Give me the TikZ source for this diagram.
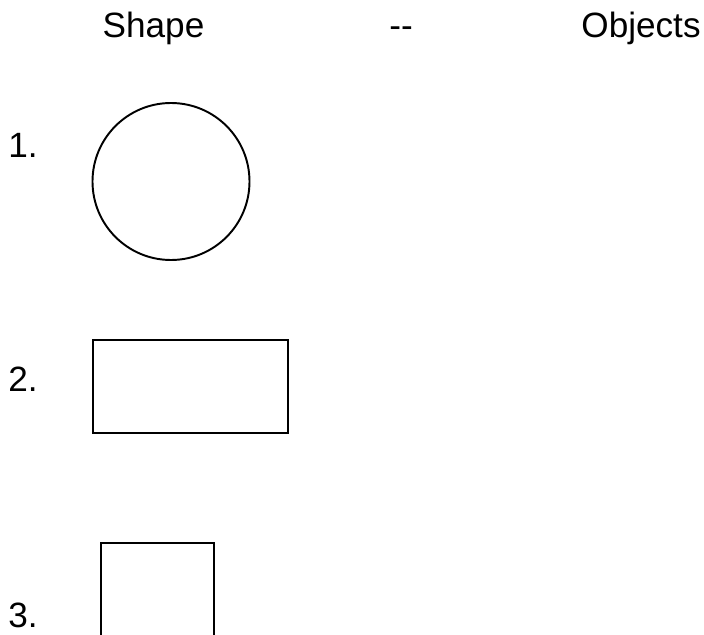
\documentclass[tikz,border=0pt]{standalone}
\usepackage{fontspec}
\setmainfont{Liberation Sans}
\begin{document}
\begin{tikzpicture}[
  label/.style={font=\fontsize{20}{24}\selectfont, inner sep=0pt, anchor=base},
  num/.style={font=\fontsize{20}{24}\selectfont, inner sep=0pt, anchor=base west},
  shapebox/.style={draw, line width=1.1pt, inner sep=0pt}
]
  \clip (0,0) rectangle (14.08,-12.7);
  \useasboundingbox (0,0) rectangle (14.08,-12.7);

  \node[label] (head1) at (3.07,-0.76) {Shape};
  \node[label] (head2) at (8.02,-0.76) {-{}-};
  \node[label] (head3) at (12.82,-0.76) {Objects};

  \node[num] (n1) at (0.16,-3.14) {1.};
  \node[num] (n2) at (0.16,-7.82) {2.};
  \node[num] (n3) at (0.16,-12.54) {3.};

  \node[shapebox, circle, minimum size=3.14cm] (circ) at (3.42,-3.63) {};
  \node[shapebox, rectangle, minimum width=3.9cm, minimum height=1.854cm] (rect) at (3.804,-7.727) {};
  \node[shapebox, rectangle, minimum width=2.266cm, minimum height=2.266cm] (sq) at (3.153,-11.999) {};
\end{tikzpicture}
\end{document}
